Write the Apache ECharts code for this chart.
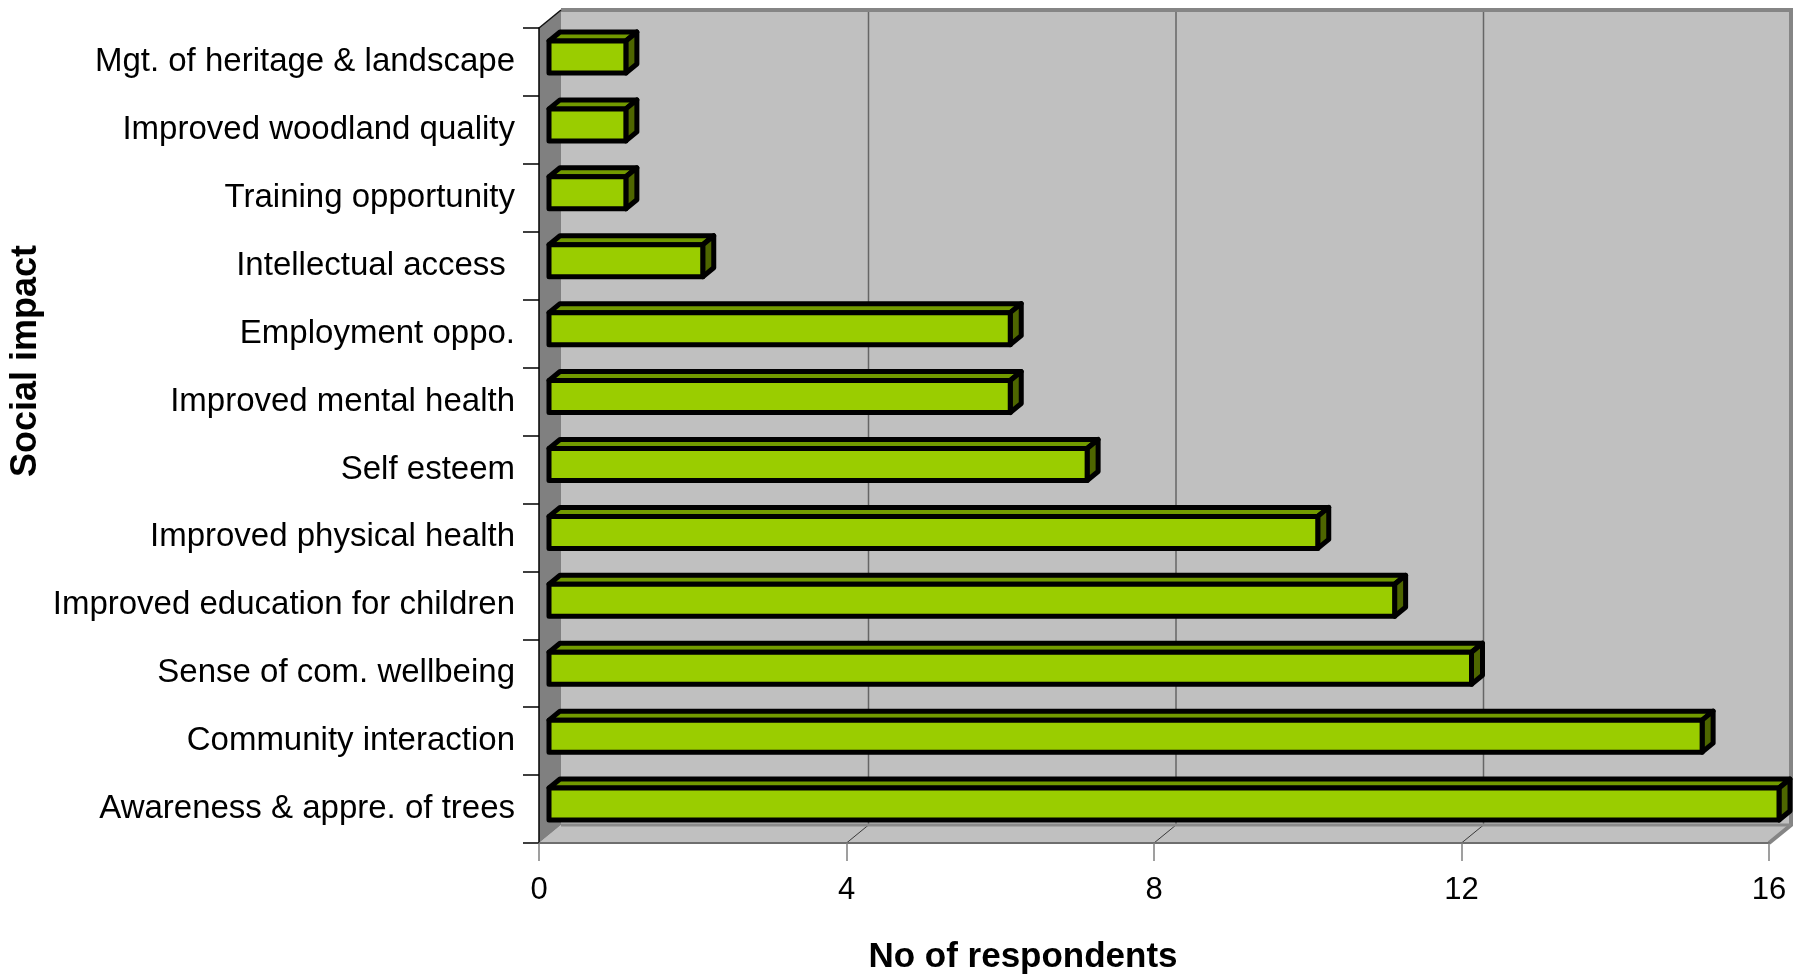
<!DOCTYPE html>
<html>
<head>
<meta charset="utf-8">
<script src="https://cdn.jsdelivr.net/npm/echarts@6/dist/echarts.min.js"></script>
<style>
  html, body { margin: 0; padding: 0; background: #ffffff; }
  #chart { width: 1807px; height: 980px; }
</style>
</head>
<body>
<div id="chart"></div>
<script>
// Social impact categories, listed top to bottom
const categories = [
  'Mgt. of heritage & landscape',
  'Improved woodland quality',
  'Training opportunity',
  'Intellectual access ',
  'Employment oppo.',
  'Improved mental health',
  'Self esteem',
  'Improved physical health',
  'Improved education for children',
  'Sense of com. wellbeing',
  'Community interaction',
  'Awareness & appre. of trees'
];
// Number of respondents per category
const respondents = [1, 1, 1, 2, 6, 6, 7, 10, 11, 12, 15, 16];
// Value axis ticks
const xTicks = [0, 4, 8, 12, 16];
const xTitle = 'No of respondents';
const yTitle = 'Social impact';

// Oblique 3D look: depth of the walls and of each bar
const WALL_DX = 22, WALL_DY = -18;
const BAR_OFF_X = 10, BAR_OFF_Y = -5;
const BAR_DX = 11, BAR_DY = -9;
const BAR_H = 32;

const FONT = "'Liberation Sans', Arial, sans-serif";

function renderWalls(params, api) {
  const cs = params.coordSys;
  const L = cs.x, T = cs.y, R = cs.x + cs.width, B = cs.y + cs.height;
  const dx = WALL_DX, dy = WALL_DY;
  const kids = [];
  // back wall
  kids.push({ type: 'polygon', shape: { points: [[L + dx, T + dy], [R + dx, T + dy], [R + dx, B + dy], [L + dx, B + dy]] },
    style: { fill: '#c0c0c0' } });
  // floor
  kids.push({ type: 'polygon', shape: { points: [[L, B], [R, B], [R + dx, B + dy], [L + dx, B + dy]] },
    style: { fill: '#c0c0c0' } });
  // left side wall
  kids.push({ type: 'polygon', shape: { points: [[L, T], [L + dx, T + dy], [L + dx, B + dy], [L, B]] },
    style: { fill: '#808080' } });
  // gridlines on the back wall and their traces across the floor
  xTicks.forEach(function (v) {
    const x = api.coord([v, 0])[0];
    if (v > xTicks[0] && v < xTicks[xTicks.length - 1]) {
      kids.push({ type: 'line', shape: { x1: x + dx, y1: T + dy, x2: x + dx, y2: B + dy },
        style: { stroke: '#666666', lineWidth: 1.5 } });
      kids.push({ type: 'line', shape: { x1: x, y1: B, x2: x + dx, y2: B + dy },
        style: { stroke: '#3a3a3a', lineWidth: 1 } });
    }
  });
  // wall borders
  kids.push({ type: 'polyline', shape: { points: [[L + dx, T + dy], [R + dx, T + dy], [R + dx, B + dy], [R, B]] },
    style: { stroke: '#858585', lineWidth: 4, fill: null, lineJoin: 'miter' } });
  kids.push({ type: 'line', shape: { x1: L + dx, y1: B + dy, x2: R + dx, y2: B + dy },
    style: { stroke: '#8a8a8a', lineWidth: 3 } });
  kids.push({ type: 'line', shape: { x1: L, y1: T, x2: L + dx, y2: T + dy },
    style: { stroke: '#111111', lineWidth: 1.5 } });
  return { type: 'group', children: kids };
}

function renderBar(params, api) {
  const idx = api.value(1);
  const base = api.coord([0, idx]);
  const end = api.coord([api.value(0), idx]);
  const x0 = base[0] + BAR_OFF_X;
  const x1 = end[0] + BAR_OFF_X;
  const yT = base[1] + BAR_OFF_Y - BAR_H / 2;
  const yB = yT + BAR_H;
  const stroke = { stroke: '#000000', lineWidth: 5, lineJoin: 'round' };
  return {
    type: 'group',
    children: [
      { type: 'polygon', shape: { points: [[x0, yT], [x1, yT], [x1 + BAR_DX, yT + BAR_DY], [x0 + BAR_DX, yT + BAR_DY]] },
        style: Object.assign({ fill: '#729a00' }, stroke) },
      { type: 'polygon', shape: { points: [[x1, yT], [x1 + BAR_DX, yT + BAR_DY], [x1 + BAR_DX, yB + BAR_DY], [x1, yB]] },
        style: Object.assign({ fill: '#4e6600' }, stroke) },
      { type: 'rect', shape: { x: x0, y: yT, width: x1 - x0, height: BAR_H },
        style: Object.assign({ fill: '#9acd00' }, stroke) }
    ]
  };
}

const chart = echarts.init(document.getElementById('chart'), null, { renderer: 'canvas' });
chart.setOption({
  backgroundColor: '#ffffff',
  animation: false,
  grid: { left: 539, right: 38, top: 28, bottom: 137, containLabel: false },
  xAxis: {
    type: 'value', min: xTicks[0], max: xTicks[xTicks.length - 1], interval: 4, z: 5,
    axisLine: { show: true, lineStyle: { color: '#6e6e6e', width: 2 } },
    axisTick: { show: true, length: 18, lineStyle: { color: '#808080', width: 1.5 } },
    axisLabel: { fontSize: 31, color: '#000', fontFamily: FONT, margin: 32 },
    splitLine: { show: false }
  },
  yAxis: {
    type: 'category', data: categories, inverse: true, z: 5,
    axisLine: { show: true, lineStyle: { color: '#000', width: 1.5 } },
    axisTick: { show: true, length: 16, lineStyle: { color: '#000', width: 1.5 } },
    axisLabel: { fontSize: 33, color: '#000', fontFamily: FONT, margin: 24 },
    splitLine: { show: false }
  },
  graphic: [
    { type: 'text', x: 1023, y: 957, style: { text: xTitle, x: 0, y: 0, fill: '#000',
      font: 'bold 35px ' + FONT, textAlign: 'center', textVerticalAlign: 'middle' } },
    { type: 'text', x: 26, y: 361, rotation: Math.PI / 2, style: { text: yTitle, x: 0, y: 0, fill: '#000',
      font: 'bold 36px ' + FONT, textAlign: 'center', textVerticalAlign: 'middle' } }
  ],
  series: [
    { type: 'custom', name: 'walls', z: 1, silent: true, renderItem: renderWalls, data: [[0, 0]] },
    { type: 'custom', name: 'bars', z: 3, renderItem: renderBar,
      encode: { x: 0, y: 1 },
      data: respondents.map(function (v, i) { return [v, i]; }) }
  ]
});
</script>
</body>
</html>
